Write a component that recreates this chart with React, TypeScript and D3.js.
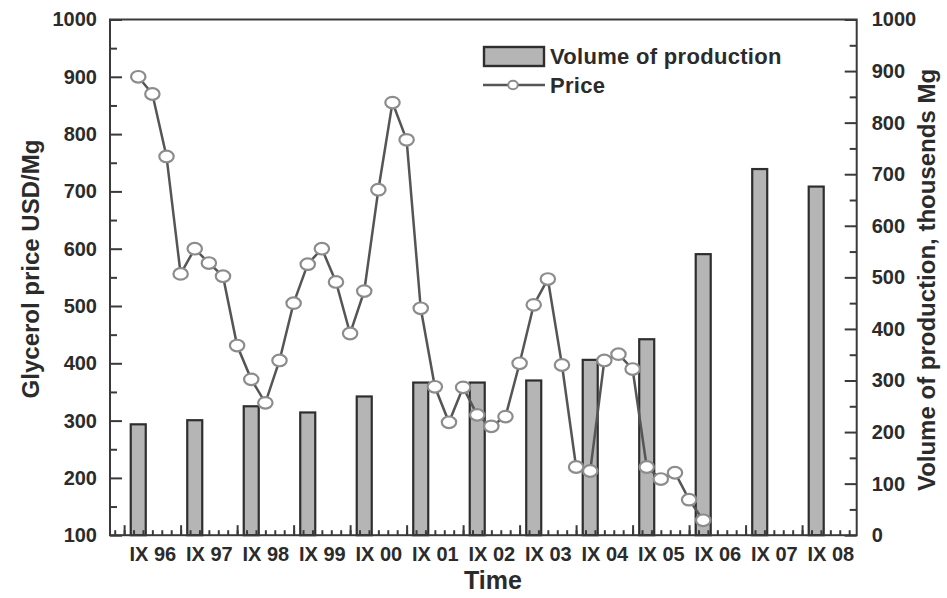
import React, { useEffect, useRef } from "react";
import * as d3 from "d3";

// categories (bars are placed at September of each year)
const years = ["96", "97", "98", "99", "00", "01", "02", "03", "04", "05", "06", "07", "08"];
// volume of production, thousends Mg (right axis)
const production = [215, 223, 250, 238, 269, 296, 296, 300, 340, 380, 545, 710, 676];
// glycerol price USD/Mg, quarterly from IX 96 (left axis)
const price = [
  900, 870, 761, 556, 600, 575, 552, 431, 372, 331,
  405, 505, 573, 600, 542, 452, 526, 703, 855, 790,
  496, 359, 297, 358, 310, 290, 307, 400, 502, 547,
  397, 219, 212, 405, 416, 390, 219, 198, 209, 162, 126,
];
const leftTicks = [100, 200, 300, 400, 500, 600, 700, 800, 900, 1000];
const rightTicks = [0, 100, 200, 300, 400, 500, 600, 700, 800, 900, 1000];

const W = 947;
const H = 598;
const FONT = "'Liberation Sans', Arial, Helvetica, sans-serif";
const INK = "#2b2b2b";

export default function App() {
  const ref = useRef<SVGSVGElement>(null);

  useEffect(() => {
    const svg = d3.select(ref.current);
    svg.selectAll("*").remove();

    const left = 110, right = 856.7, top = 19.5, bottom = 535.2;
    // months counted from IX 96
    const x = d3.scaleLinear().domain([-6, 152.6]).range([left, right]);
    const yL = d3.scaleLinear().domain([100, 1000]).range([bottom, top]);
    const yR = d3.scaleLinear().domain([0, 1000]).range([bottom, top]);

    // bars
    const barW = 15;
    svg.append("g")
      .selectAll("rect")
      .data(production)
      .join("rect")
      .attr("x", (d, i) => x(i * 12) - barW / 2)
      .attr("y", (d) => yR(d))
      .attr("width", barW)
      .attr("height", (d) => bottom - yR(d))
      .attr("fill", "#b5b5b5")
      .attr("stroke", "#2e2e2e")
      .attr("stroke-width", 2.2);

    // price line
    const line = d3.line<number>()
      .x((d, i) => x(i * 3))
      .y((d) => yL(d));
    svg.append("path")
      .datum(price)
      .attr("d", line)
      .attr("fill", "none")
      .attr("stroke", "#555")
      .attr("stroke-width", 2.5);
    svg.append("g")
      .selectAll("ellipse")
      .data(price)
      .join("ellipse")
      .attr("cx", (d, i) => x(i * 3))
      .attr("cy", (d) => yL(d))
      .attr("rx", 7.2)
      .attr("ry", 5.8)
      .attr("fill", "#fff")
      .attr("stroke", "#8c8c8c")
      .attr("stroke-width", 2.2);

    // frame
    svg.append("rect")
      .attr("x", left).attr("y", top)
      .attr("width", right - left).attr("height", bottom - top)
      .attr("fill", "none").attr("stroke", "#3a3a3a").attr("stroke-width", 2);

    const style = (g) => {
      g.select(".domain").remove();
      g.selectAll("line").attr("stroke", "#3a3a3a").attr("stroke-width", 2);
      g.selectAll("text")
        .attr("fill", INK)
        .attr("font-family", FONT)
        .attr("font-weight", "bold")
        .attr("font-size", 20);
    };

    // left axis
    svg.append("g").attr("transform", `translate(${left},0)`)
      .call(d3.axisLeft(yL).tickValues(d3.range(150, 1000, 100)).tickSize(-7).tickFormat(() => ""))
      .call(style);
    svg.append("g").attr("transform", `translate(${left},0)`)
      .call(d3.axisLeft(yL).tickValues(leftTicks).tickSize(-12).tickPadding(13).tickFormat(d3.format("d")))
      .call(style);

    // right axis
    svg.append("g").attr("transform", `translate(${right},0)`)
      .call(d3.axisRight(yR).tickValues(d3.range(50, 1000, 100)).tickSize(-7).tickFormat(() => ""))
      .call(style);
    svg.append("g").attr("transform", `translate(${right},0)`)
      .call(d3.axisRight(yR).tickValues(rightTicks).tickSize(-12).tickPadding(15).tickFormat(d3.format("d")))
      .call(style);

    // bottom axis: minor ticks every 2 months, major each year
    svg.append("g").attr("transform", `translate(0,${bottom})`)
      .call(d3.axisBottom(x).tickValues(d3.range(-5, 152, 2)).tickSize(-5).tickFormat(() => ""))
      .call(style);
    svg.append("g").attr("transform", `translate(0,${bottom})`)
      .call(d3.axisBottom(x).tickValues(d3.range(-3, 152, 12)).tickSize(-10).tickFormat(() => ""))
      .call(style);
    svg.append("g").attr("transform", `translate(0,${bottom})`)
      .call(d3.axisBottom(x).tickValues(years.map((d, i) => i * 12 + 3)).tickSize(0).tickPadding(12)
        .tickFormat((d, i) => "IX " + years[i]))
      .call(style);

    // axis titles
    const title = (t) => t.attr("fill", INK).attr("font-family", FONT)
      .attr("font-weight", "bold").attr("font-size", 24).attr("text-anchor", "middle");
    svg.append("text").attr("x", 493).attr("y", 589).text("Time").call(title)
      .attr("font-size", 25);
    svg.append("text").attr("transform", "translate(39,269) rotate(-90)")
      .text("Glycerol price USD/Mg").call(title);
    svg.append("text").attr("transform", "translate(935,280) rotate(-90)")
      .text("Volume of production, thousends Mg").call(title);

    // legend
    const lg = svg.append("g");
    lg.append("rect").attr("x", 484).attr("y", 47).attr("width", 60).attr("height", 19)
      .attr("fill", "#b5b5b5").attr("stroke", "#2e2e2e").attr("stroke-width", 2.4);
    lg.append("line").attr("x1", 483).attr("x2", 545).attr("y1", 85).attr("y2", 85)
      .attr("stroke", "#555").attr("stroke-width", 2.5);
    lg.append("ellipse").attr("cx", 513).attr("cy", 85).attr("rx", 4.8).attr("ry", 4.2)
      .attr("fill", "#fff").attr("stroke", "#8c8c8c").attr("stroke-width", 2);
    const lt = (t) => t.attr("fill", INK).attr("font-family", FONT)
      .attr("font-weight", "bold").attr("font-size", 22).attr("letter-spacing", 0.3);
    lg.append("text").attr("x", 550).attr("y", 64).text("Volume of production").call(lt);
    lg.append("text").attr("x", 550).attr("y", 93).text("Price").call(lt);
  }, []);

  return (
    <div style={{ position: "absolute", left: 0, top: 0, background: "#fff" }}>
      <svg ref={ref} width={W} height={H} viewBox={`0 0 ${W} ${H}`} style={{ display: "block" }} />
    </div>
  );
}
